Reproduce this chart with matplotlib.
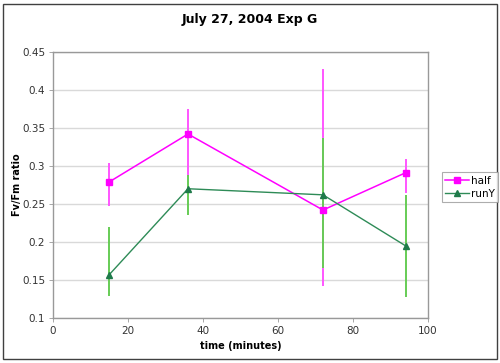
import matplotlib
matplotlib.use("Agg")
import matplotlib.pyplot as plt
import numpy as np
from matplotlib.patches import Rectangle

time = [15, 36, 72, 94]
half = [0.279, 0.342, 0.242, 0.291]
half_lo = [0.247, 0.288, 0.142, 0.264]
half_hi = [0.304, 0.375, 0.428, 0.309]
runY = [0.157, 0.270, 0.262, 0.195]
runY_lo = [0.129, 0.235, 0.166, 0.128]
runY_hi = [0.220, 0.288, 0.337, 0.262]
yticks = [0.1, 0.15, 0.2, 0.25, 0.3, 0.35, 0.4, 0.45]
ytick_labels = ["0.1", "0.15", "0.2", "0.25", "0.3", "0.35", "0.4", "0.45"]
xticks = [0, 20, 40, 60, 80, 100]

plt.rcParams['font.family'] = ['DejaVu Sans']
fig = plt.figure(figsize=(5.0, 3.63), dpi=100)
ax = fig.add_axes([0.106, 0.124, 0.75, 0.733])

# outer border
fig.patches.append(Rectangle((0.006, 0.011), 0.988, 0.978, transform=fig.transFigure,
                             fill=False, edgecolor='#404040', linewidth=1.0))

t = np.array(time)
h = np.array(half); r = np.array(runY)
ax.errorbar(t, h, yerr=[h - np.array(half_lo), np.array(half_hi) - h], fmt='none',
            ecolor='#ff55ff', elinewidth=1.4, capsize=0, zorder=2)
ax.errorbar(t, r, yerr=[r - np.array(runY_lo), np.array(runY_hi) - r], fmt='none',
            ecolor='#66cc55', elinewidth=1.4, capsize=0, zorder=3)
ax.plot(t, h, color='#ff00ff', marker='s', markersize=5, linewidth=1.1, label='half', zorder=4)
ax.plot(t, r, color='#2e8b57', marker='^', markersize=5, linewidth=1.0,
        markerfacecolor='#1f7a4a', markeredgecolor='#1f7a4a', label='runY', zorder=4)

ax.set_xlim(0, 100)
ax.set_ylim(0.1, 0.45)
ax.set_xticks(xticks)
ax.set_yticks(yticks)
ax.set_yticklabels(ytick_labels)
ax.tick_params(labelsize=7.5, colors='#333333', length=3, width=0.6, pad=2.5)
ax.tick_params(axis='both', color='#999999')
ax.grid(axis='y', color='#d9d9d9', linewidth=1.0)
ax.set_axisbelow(True)
for s in ax.spines.values():
    s.set_color('#999999')
    s.set_linewidth(1.0)

ax.set_xlabel('time (minutes)', fontsize=7, fontweight='bold', labelpad=4)
ax.set_ylabel('Fv/Fm ratio', fontsize=7, fontweight='bold')
ax.yaxis.set_label_coords(-0.082, 0.5)
fig.suptitle('July 27, 2004 Exp G', x=0.5, y=0.965, fontsize=9, fontweight='bold')

leg = fig.legend(loc='upper left', bbox_to_anchor=(0.884, 0.525), fontsize=7.5,
                 frameon=True, fancybox=False, edgecolor='#999999', borderpad=0.3,
                 handlelength=2.3, handletextpad=0.2, labelspacing=0.3, borderaxespad=0)
leg.get_frame().set_linewidth(0.8)

fig.savefig('out.png', dpi=100)
